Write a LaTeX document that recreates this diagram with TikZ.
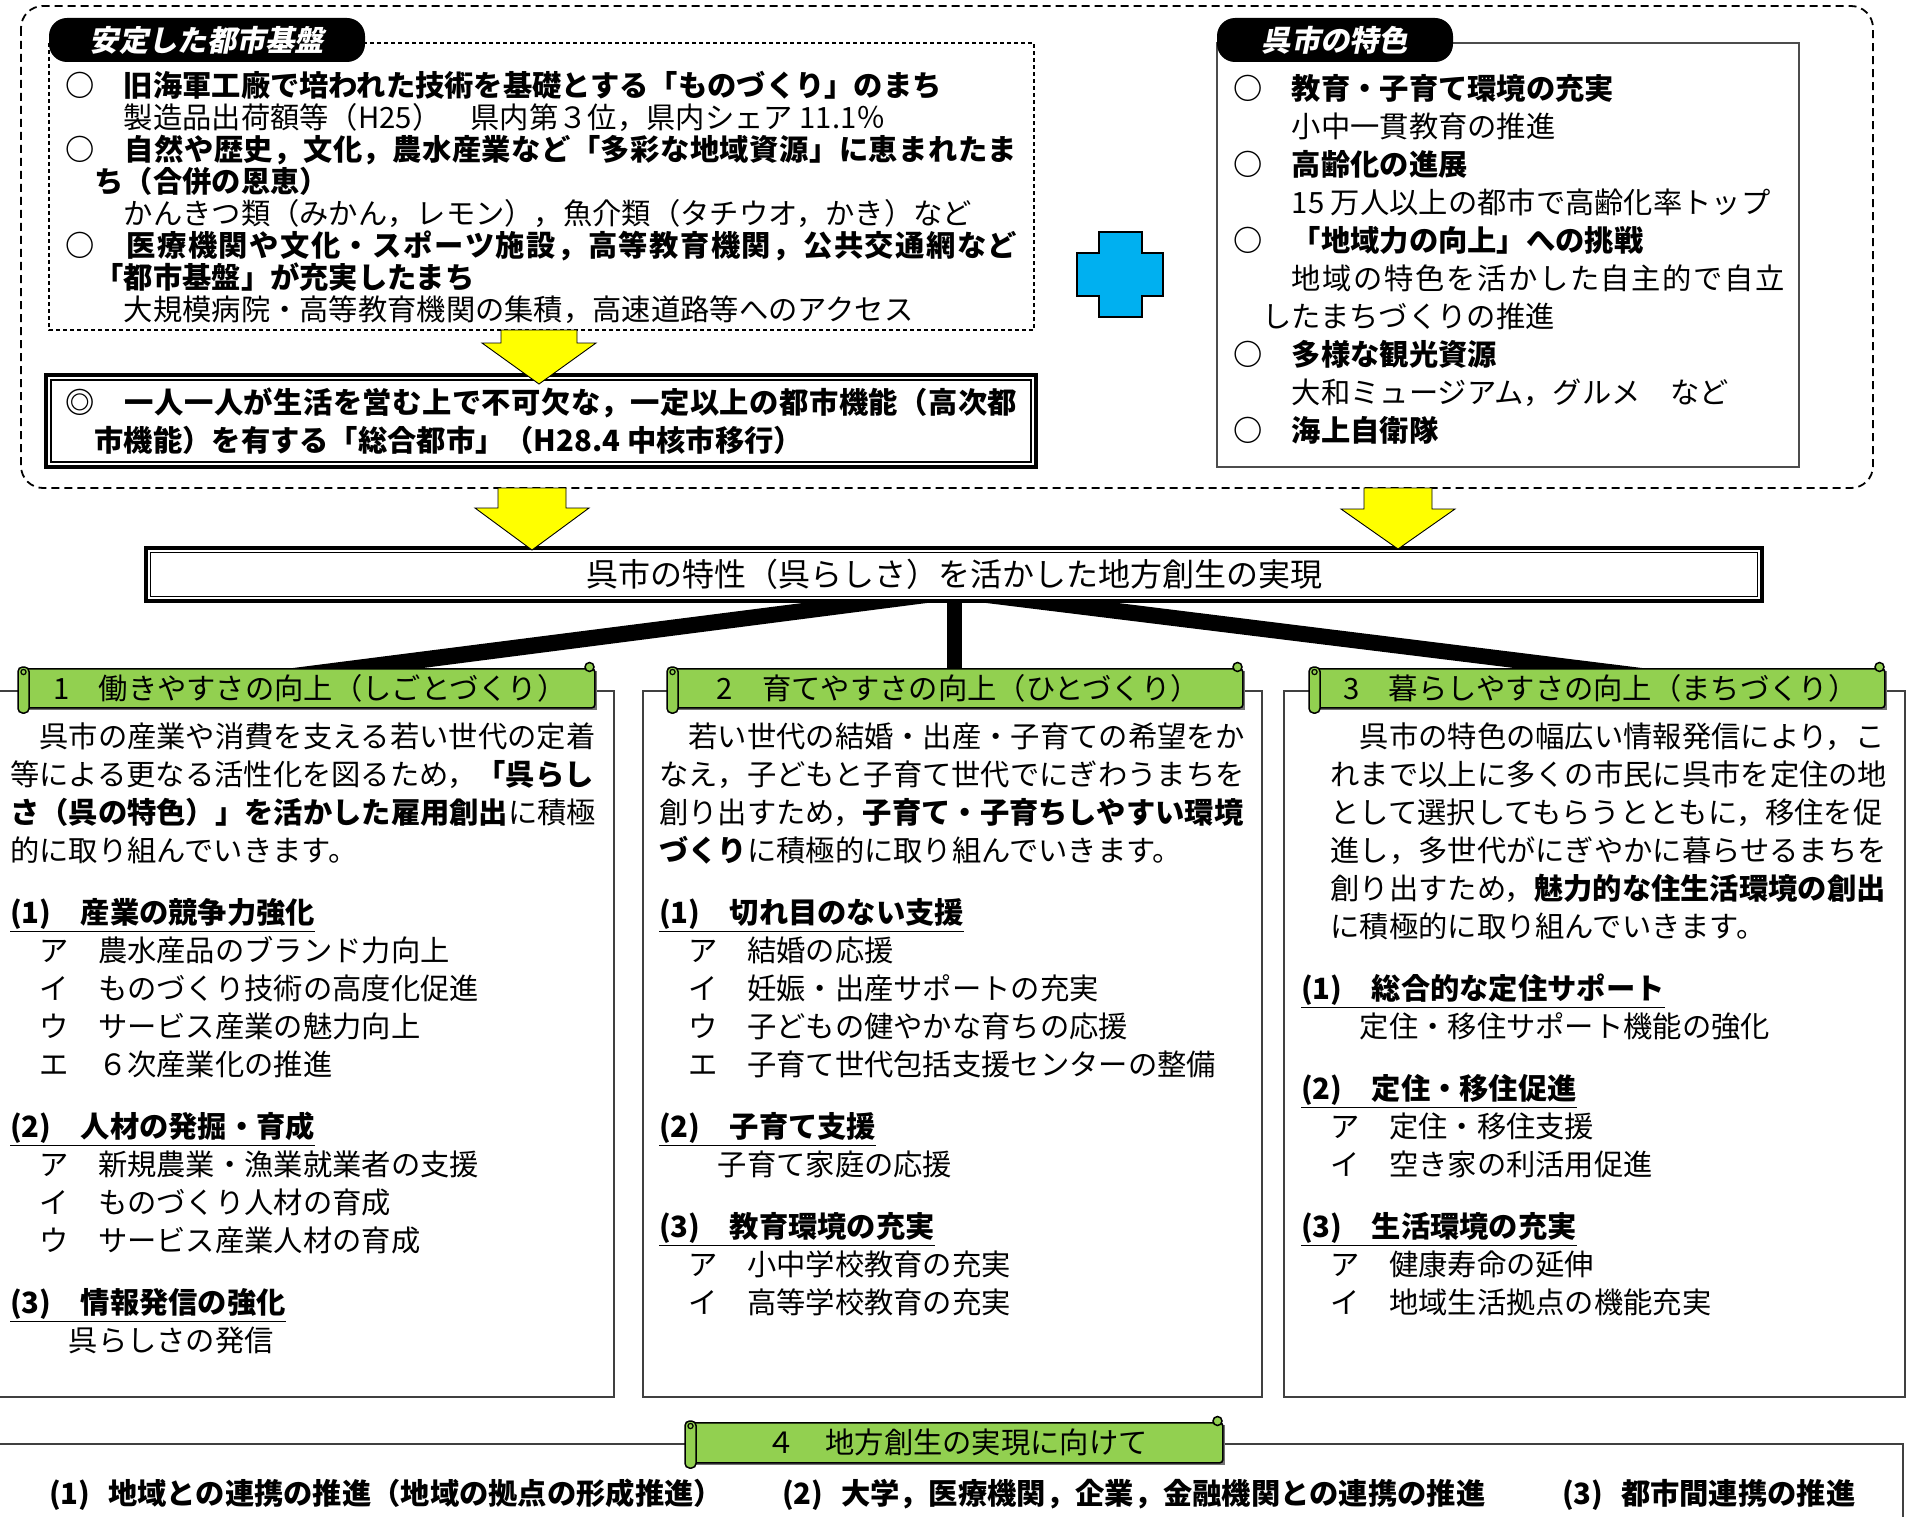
\documentclass[tikz,border=0pt]{standalone}
\usepackage{fontspec}
\setmainfont{Noto Sans CJK JP}
\newfontfamily\jpsl{Noto Sans CJK JP}[FakeSlant=0.2]
\usetikzlibrary{calc}
\definecolor{bgreen}{HTML}{92D050}
\definecolor{bblue}{HTML}{00B0F0}
\definecolor{byellow}{HTML}{FFFF00}
\newcommand\strt{\rule{0pt}{1em}}
\newcommand\hd[1]{\underline{\textbf{#1}}}
\ExplSyntaxOn
\NewDocumentCommand\spreadto{mm}{\makebox[#1][s]{\tl_map_inline:nn{#2}{##1\hfill}\unskip}}
\ExplSyntaxOff
\newcommand\banner[6]{%
  \fill[black!55] (#2+9,#3+3) rectangle (#4+2.5,#5+2.5);
  \node[banbody, anchor=north west, minimum width={#4-#2-6}, minimum height={#5-#3}] (#1) at (#2+6,#3) {#6};
  \draw[banline] (#4-4.5,#3-1) circle[radius=4.5];
  \draw[banline, rounded corners=4.5] (#2,#3-1) rectangle (#2+11,#5+6);
  \draw[line width=1.2] (#2+5.5,#3+4) circle[radius=2.6];
}
\newcommand\yarr[6]{\draw[yarrowsty] (#1-#5,#2) -- (#1+#5,#2) -- (#1+#5,#3) -- (#1+#6,#3) -- (#1,#4) -- (#1-#6,#3) -- (#1-#5,#3) -- cycle;}
\tikzset{
  dashouter/.style={line width=1.8, dash pattern=on 8pt off 5pt, rounded corners=22},
  dashinner/.style={line width=1.1, dash pattern=on 4pt off 3pt},
  boxline/.style={line width=1.6, black!75},
  banbody/.style={draw, line width=1.6, fill=bgreen, rounded corners=3, inner sep=0, font=\fontsize{29.3}{32}\selectfont},
  banline/.style={draw, line width=1.5, fill=bgreen},
  yarrowsty/.style={fill=byellow, draw=black, line width=0.9, line join=miter},
  pill/.style={fill=black, rounded corners=18, text=white, inner sep=0, font=\jpsl\bfseries\fontsize{29.3}{32}\selectfont},
  txt/.style={anchor=north west, inner sep=0, align=left, font=\fontsize{29.3}{38}\selectfont},
  rowtxt/.style={anchor=base west, inner sep=0, font=\bfseries\fontsize{29.3}{38}\selectfont}
}
\begin{document}
\begin{tikzpicture}[x=1pt,y=-1pt]
\fill[white] (0,0) rectangle (1917,1517);
\useasboundingbox (0,0) rectangle (1917,1517);

% ---- top area ----
\draw[dashouter] (21,6) rectangle (1873,488);
\draw[dashinner] (49,43) rectangle (1034,330);
\draw[line width=1.4, black!70] (1217,43) rectangle (1799,467);
\node[pill, minimum width=316, minimum height=44] (p1) at (207,40) {安定した都市基盤};
\node[pill, minimum width=236, minimum height=44] (p2) at (1335,40) {呉市の特色};

\draw[fill=bblue, line width=2.2, line join=miter] (1099,232) -- (1142,232) -- (1142,253) -- (1163,253) -- (1163,296) -- (1142,296) -- (1142,317) -- (1099,317) -- (1099,296) -- (1077,296) -- (1077,253) -- (1099,253) -- cycle;

\draw[line width=4.5] (46,375) rectangle (1036,467);
\draw[line width=1.2] (51,380) rectangle (1031,462);
\yarr{539}{330}{343}{384}{38}{57}

\node[txt, font=\fontsize{29.3}{32}\selectfont] (tl) at (65,66.8) {\strt\textbf{○　旧海軍工廠で培われた技術を基礎とする「ものづくり」のまち}\\
　　製造品出荷額等（H25）　県内第３位，県内シェア 11.1％\\
\textbf{\spreadto{952pt}{○　自然や歴史，文化，農水産業など「多彩な地域資源」に恵まれたま}}\\
　\textbf{ち（合併の恩恵）}\\
　　かんきつ類（みかん，レモン），魚介類（タチウオ，かき）など\\
\textbf{\spreadto{952pt}{○　医療機関や文化・スポーツ施設，高等教育機関，公共交通網など}}\\
　\textbf{「都市基盤」が充実したまち}\\
　　大規模病院・高等教育機関の集積，高速道路等へのアクセス};

\node[txt] (dbl) at (65,383.8) {\strt\textbf{\spreadto{952pt}{◎　一人一人が生活を営む上で不可欠な，一定以上の都市機能（高次都}}\\
\textbf{　市機能）を有する「総合都市」（H28.4 中核市移行）}};

\node[txt] (tr) at (1233,69.8) {\strt\textbf{○　教育・子育て環境の充実}\\
　　小中一貫教育の推進\\
\textbf{○　高齢化の進展}\\
　　15 万人以上の都市で高齢化率トップ\\
\textbf{○　「地域力の向上」への挑戦}\\
　　\spreadto{493pt}{地域の特色を活かした自主的で自立}\\
　したまちづくりの推進\\
\textbf{○　多様な観光資源}\\
　　大和ミュージアム，グルメ　など\\
\textbf{○　海上自衛隊}};

% ---- main box and fan ----
\fill (826,600) -- (950,600) -- (423,668) -- (293,668) -- cycle;
\fill (947,600) rectangle (962,668);
\fill (962,600) -- (1094,600) -- (1642,668) -- (1514,668) -- cycle;
\draw[line width=4.5, fill=white] (146,548) rectangle (1762,601);
\draw[line width=1.2] (150.5,552.5) rectangle (1757.5,596.5);
\node[inner sep=0, font=\fontsize{32}{36}\selectfont] (title) at (954,574) {呉市の特性（呉らしさ）を活かした地方創生の実現};
\yarr{532}{488}{508}{550}{34}{57}
\yarr{1398}{488}{509}{549}{34}{57}

% ---- three boxes ----
\draw[boxline] (-3,691) rectangle (614,1397);
\draw[boxline] (643,691) rectangle (1262,1397);
\draw[boxline] (1284,691) rectangle (1905,1397);
\draw[boxline] (-3,1444) rectangle (1903,1530);

\banner{bn1}{18}{668}{594}{707}{1　働きやすさの向上（しごとづくり）}
\banner{bn2}{667}{668}{1242}{707}{2　育てやすさの向上（ひとづくり）}
\banner{bn3}{1309}{668}{1884}{707}{3　暮らしやすさの向上（まちづくり）}
\banner{bn4}{685}{1422}{1222}{1462}{４　地方創生の実現に向けて}

\node[txt] (t1) at (10,717.8) {\strt　呉市の産業や消費を支える若い世代の定着\\
等による更なる活性化を図るため，\textbf{「呉らし}\\
\textbf{さ（呉の特色）」を活かした雇用創出}に積極\\
的に取り組んでいきます。\\[24pt]
\hd{(1)　産業の競争力強化}\\
　ア　農水産品のブランド力向上\\
　イ　ものづくり技術の高度化促進\\
　ウ　サービス産業の魅力向上\\
　エ　６次産業化の推進\\[24pt]
\hd{(2)　人材の発掘・育成}\\
　ア　新規農業・漁業就業者の支援\\
　イ　ものづくり人材の育成\\
　ウ　サービス産業人材の育成\\[24pt]
\hd{(3)　情報発信の強化}\\
　　呉らしさの発信};

\node[txt] (t2) at (659,717.8) {\strt　若い世代の結婚・出産・子育ての希望をか\\
なえ，子どもと子育て世代でにぎわうまちを\\
創り出すため，\textbf{子育て・子育ちしやすい環境}\\
\textbf{づくり}に積極的に取り組んでいきます。\\[24pt]
\hd{(1)　切れ目のない支援}\\
　ア　結婚の応援\\
　イ　妊娠・出産サポートの充実\\
　ウ　子どもの健やかな育ちの応援\\
　エ　子育て世代包括支援センターの整備\\[24pt]
\hd{(2)　子育て支援}\\
　　子育て家庭の応援\\[24pt]
\hd{(3)　教育環境の充実}\\
　ア　小中学校教育の充実\\
　イ　高等学校教育の充実};

\node[txt] (t3) at (1301,717.8) {\strt　　呉市の特色の幅広い情報発信により，こ\\
　れまで以上に多くの市民に呉市を定住の地\\
　として選択してもらうとともに，移住を促\\
　進し，多世代がにぎやかに暮らせるまちを\\
　創り出すため，\textbf{魅力的な住生活環境の創出}\\
　に積極的に取り組んでいきます。\\[24pt]
\hd{(1)　総合的な定住サポート}\\
　　定住・移住サポート機能の強化\\[24pt]
\hd{(2)　定住・移住促進}\\
　ア　定住・移住支援\\
　イ　空き家の利活用促進\\[24pt]
\hd{(3)　生活環境の充実}\\
　ア　健康寿命の延伸\\
　イ　地域生活拠点の機能充実};

\node[rowtxt] (r1) at (49,1504) {(1)\hspace{0.6em}地域との連携の推進（地域の拠点の形成推進）};
\node[rowtxt] (r2) at (782,1504) {(2)\hspace{0.6em}大学，医療機関，企業，金融機関との連携の推進};
\node[rowtxt] (r3) at (1562,1504) {(3)\hspace{0.6em}都市間連携の推進};
\end{tikzpicture}
\end{document}
